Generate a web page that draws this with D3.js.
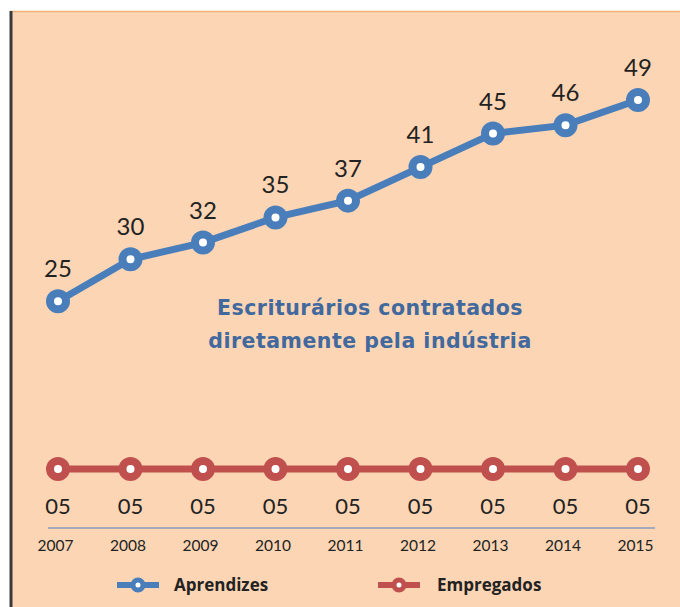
<!DOCTYPE html>
<html>
<head>
<meta charset="utf-8">
<script src="https://cdn.jsdelivr.net/npm/d3@7"></script>
<style>
  body { margin: 0; background: #fff; }
</style>
</head>
<body>
<div id="plot"></div>
<script>
// Data
const years = ["2007", "2008", "2009", "2010", "2011", "2012", "2013", "2014", "2015"];
const aprendizes = [25, 30, 32, 35, 37, 41, 45, 46, 49];
const empregados = [5, 5, 5, 5, 5, 5, 5, 5, 5];
const seriesNames = ["Aprendizes", "Empregados"];
const titleLines = ["Escriturários contratados", "diretamente pela indústria"];

const w = 680;
const h = 607;
const blue = "#4a7ebb";
const red = "#c0504d";
const peach = "#fcd5b4";
const baseFont = "Lato, Calibri, sans-serif";

const svg = d3.select("div#plot")
  .append("svg")
  .attr("width", w)
  .attr("height", h)
  .style("font-family", baseFont);

// Panel background
svg.append("rect")
  .attr("x", 10)
  .attr("y", 11)
  .attr("width", w - 10)
  .attr("height", h - 11)
  .attr("fill", peach);

svg.append("line")
  .attr("x1", 10).attr("x2", w)
  .attr("y1", 11.5).attr("y2", 11.5)
  .attr("stroke", "#f0b07a")
  .attr("stroke-width", 1.5);

svg.append("line")
  .attr("x1", 11).attr("x2", 11)
  .attr("y1", 11).attr("y2", h)
  .attr("stroke", "#3a3a3a")
  .attr("stroke-width", 3);

// Scales
const xScale = d3.scalePoint()
  .domain(years)
  .range([58, 638]);

const yScale = d3.scaleLinear()
  .domain([5, 49])
  .range([469, 100]);

// x axis line + year labels
const xAxis = d3.axisBottom(xScale).tickSize(0).tickPadding(12);
const axisG = svg.append("g")
  .attr("transform", "translate(0, 528)")
  .call(xAxis);
axisG.select(".domain")
  .attr("d", "M48,0H655")
  .attr("stroke", "#a4aabb")
  .attr("stroke-width", 2);
axisG.selectAll("text")
  .style("font-size", "15.5px")
  .style("fill", "#222")
  .attr("x", -3)
  .style("font-family", baseFont);

// Lines
const line = d3.line()
  .x((d, i) => xScale(years[i]))
  .y(d => yScale(d));

function drawSeries(values, color, labelDy, fontSize) {
  svg.append("path")
    .datum(values)
    .attr("d", line)
    .attr("fill", "none")
    .attr("stroke", color)
    .attr("stroke-width", 7);

  svg.selectAll(null)
    .data(values)
    .join("circle")
    .attr("cx", (d, i) => xScale(years[i]))
    .attr("cy", d => yScale(d))
    .attr("r", 8)
    .attr("fill", "#fff")
    .attr("stroke", color)
    .attr("stroke-width", 8);

  svg.selectAll(null)
    .data(values)
    .join("text")
    .attr("x", (d, i) => xScale(years[i]))
    .attr("y", d => yScale(d) + labelDy)
    .attr("text-anchor", "middle")
    .style("font-size", fontSize)
    .style("fill", "#222")
    .text(d => d3.format("02d")(d));
}

drawSeries(aprendizes, blue, -24, "24px");
drawSeries(empregados, red, 45, "22px");

// Annotation in the middle
svg.append("text")
  .attr("x", 370)
  .attr("text-anchor", "middle")
  .style("font-size", "20.5px")
  .style("font-weight", "bold")
  .style("letter-spacing", "0.5px")
  .style("fill", "#41699e")
  .style("font-family", "'DejaVu Sans', sans-serif")
  .selectAll("tspan")
  .data(titleLines)
  .join("tspan")
  .attr("x", 370)
  .attr("y", (d, i) => 315 + i * 33)
  .text(d => d);

// Legend
const legendX = [117, 378];
const legend = svg.selectAll(".legend")
  .data(seriesNames)
  .join("g")
  .attr("class", "legend")
  .attr("transform", (d, i) => `translate(${legendX[i]}, 585)`);

legend.append("line")
  .attr("x1", 0).attr("x2", 42)
  .attr("stroke", (d, i) => [blue, red][i])
  .attr("stroke-width", 6);

legend.append("circle")
  .attr("cx", 21)
  .attr("r", 5)
  .attr("fill", "#fff")
  .attr("stroke", (d, i) => [blue, red][i])
  .attr("stroke-width", 5);

legend.append("text")
  .attr("x", (d, i) => i === 0 ? 57 : 59)
  .attr("y", 6)
  .style("font-size", "17px")
  .style("font-weight", "bold")
  .style("font-family", "'Open Sans', sans-serif")
  .style("fill", "#222")
  .text(d => d);
</script>
</body>
</html>
